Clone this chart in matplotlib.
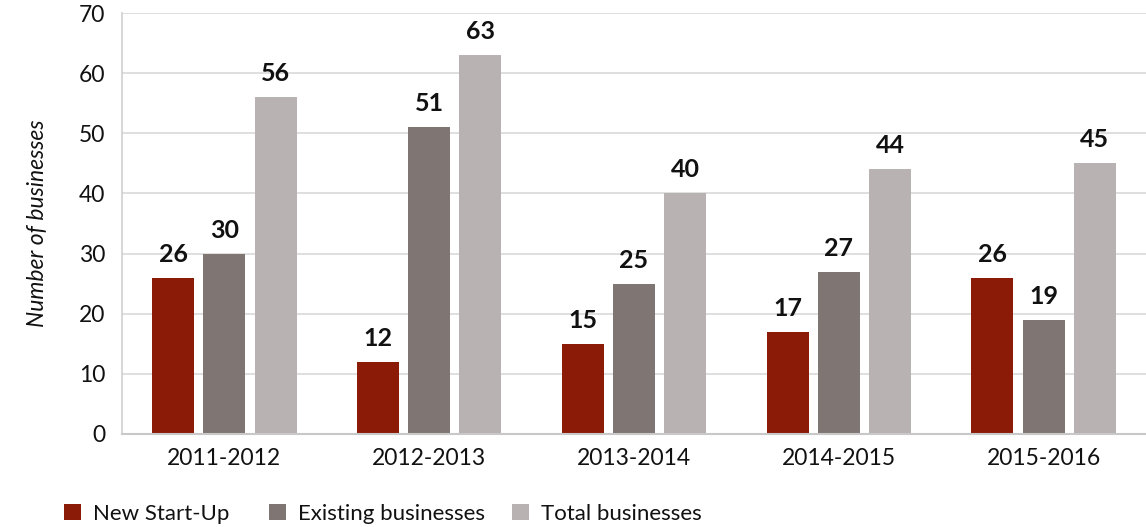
import matplotlib
matplotlib.use("Agg")
import matplotlib.pyplot as plt
from matplotlib.patches import Patch
import numpy as np

categories = ["2011-2012", "2012-2013", "2013-2014", "2014-2015", "2015-2016"]
new_startup = [26, 12, 15, 17, 26]
existing = [30, 51, 25, 27, 19]
total = [56, 63, 40, 44, 45]
series_names = ["New Start-Up", "Existing businesses", "Total businesses"]
colors = ["#8B1A06", "#7F7674", "#B8B3B2"]

plt.rcParams['font.family'] = ['Lato', 'DejaVu Sans']

fig = plt.figure(figsize=(11.46, 5.27), dpi=100)
ax = fig.add_axes([122/1146, 1-434/527, (1146-122)/1146, (434-13)/527])

x = np.arange(len(categories))
w = 0.205
off = 0.25
for i, (vals, name, c) in enumerate(zip([new_startup, existing, total], series_names, colors)):
    bars = ax.bar(x + (i-1)*off, vals, width=w, color=c, label=name, zorder=2)
    for b, v in zip(bars, vals):
        ax.text(b.get_x()+b.get_width()/2, v+2.0, str(v), ha='center', va='bottom',
                fontsize=18, fontweight='bold', color='#111111')

ax.set_xlim(-0.5, len(categories)-0.5)
ax.set_ylim(0, 70)
ax.set_yticks(range(0, 71, 10))
ax.grid(axis='y', color='#D9D9D9', linewidth=1.2, zorder=0)
ax.set_axisbelow(True)
for s in ['top', 'right']:
    ax.spines[s].set_visible(False)
ax.spines['left'].set_color('#D0D0D0')
ax.spines['bottom'].set_color('#C8C8C8')
ax.spines['left'].set_linewidth(1.2)
ax.spines['bottom'].set_linewidth(1.5)
ax.tick_params(axis='both', length=0, labelsize=16.5, colors='#111111')
ax.tick_params(axis='y', pad=12)
ax.tick_params(axis='x', pad=10)
ax.set_xticks(x)
ax.set_xticklabels(categories)
ax.set_ylabel("Number of businesses", fontsize=16.5, style='italic', color='#111111')
ax.yaxis.set_label_coords(-74/1024, 0.5)

legend_x = [64, 269, 512]
for name, c, lx in zip(series_names, colors, legend_x):
    fig.legend(handles=[Patch(facecolor=c, edgecolor='none', label=name)],
               loc='center left', bbox_to_anchor=(lx/1146, 1-514/527), frameon=False,
               fontsize=16, handlelength=0.75, handleheight=0.75, handletextpad=0.55,
               borderpad=0, borderaxespad=0, labelcolor='#111111')

fig.savefig("out.png", dpi=100)
